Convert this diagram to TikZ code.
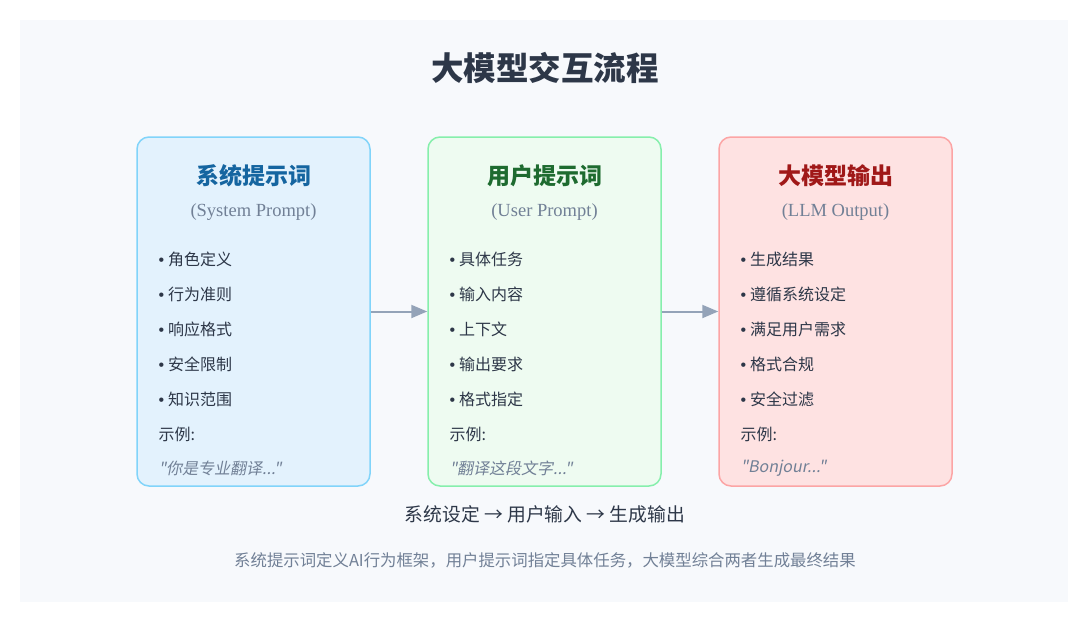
\documentclass[tikz,border=0pt]{standalone}
\usepackage{fontspec}
\setmainfont{Noto Sans CJK SC}
\newfontfamily\subfont{Liberation Serif}
\newfontfamily\dotfont{Liberation Sans}
\newfontfamily\slfont[FakeSlant=0.2]{Noto Sans CJK SC}
\usetikzlibrary{positioning,arrows.meta}
\definecolor{panel}{HTML}{F7F9FC}
\definecolor{ink}{HTML}{2D3748}
\definecolor{gry}{HTML}{718096}
\definecolor{arr}{HTML}{94A3B8}
\definecolor{bfill}{HTML}{E3F2FD}\definecolor{bline}{HTML}{81D4FA}\definecolor{btxt}{HTML}{1565A0}
\definecolor{gfill}{HTML}{EEFBF1}\definecolor{gline}{HTML}{86EFAC}\definecolor{gtxt}{HTML}{1E6B30}
\definecolor{rfill}{HTML}{FEE2E2}\definecolor{rline}{HTML}{FCA5A5}\definecolor{rtxt}{HTML}{A01818}
\newcommand\bul{{\dotfont•}\hspace{4pt}}
\tikzset{
  card/.style={draw=#1line,fill=#1fill,line width=1.5pt,rounded corners=12pt,minimum width=233pt,minimum height=349pt},
  head/.style={font=\fontsize{23}{26}\selectfont\bfseries,text=#1txt},
  sub/.style={font=\subfont\fontsize{18.5}{21}\selectfont,text=gry},
  item/.style={font=\fontsize{16}{19}\selectfont,text=ink,anchor=west},
  flow/.style={-{Triangle[length=16pt,width=13pt]},line width=2pt,draw=arr}
}
\begin{document}
\begin{tikzpicture}[x=1pt,y=-1pt]
\useasboundingbox (0,0) rectangle (1080,637);
\fill[white] (0,0) rectangle (1080,637);
\fill[panel] (20,20) rectangle (1068,602);
\node[font=\fontsize{32.5}{36}\selectfont\bfseries,text=ink] (title) at (545,68) {大模型交互流程};
% three cards
\node[card=b] (sys) at (253.5,311.5) {};
\node[card=g] (usr) at (544.5,311.5) {};
\node[card=r] (out) at (835.5,311.5) {};
\node[head=b] at (253.5,176) {系统提示词};
\node[head=g] at (544.5,176) {用户提示词};
\node[head=r] at (835.5,176) {大模型输出};
\node[sub] at (253.5,212) {(System Prompt)};
\node[sub] at (544.5,212) {(User Prompt)};
\node[sub] at (835.5,212) {(LLM Output)};
\foreach \x/\a/\b/\c/\d/\e/\ex in {
  155/角色定义/行为准则/响应格式/安全限制/知识范围/{"你是专业翻译..."},
  446/具体任务/输入内容/上下文/输出要求/格式指定/{"翻译这段文字..."},
  737/生成结果/遵循系统设定/满足用户需求/格式合规/安全过滤/{"Bonjour..."}}{
  \node[item] at (\x,259) {\bul\a};
  \node[item] at (\x,294) {\bul\b};
  \node[item] at (\x,329) {\bul\c};
  \node[item] at (\x,364) {\bul\d};
  \node[item] at (\x,399) {\bul\e};
  \node[item] at (\x,434) {示例:};
  \node[item,text=gry,font=\slfont\fontsize{16}{19}\selectfont] at (\x,468) {\ex};
}
\draw[flow] (sys) -- (usr);
\draw[flow] (usr) -- (out);
\node[font=\fontsize{18.8}{22}\selectfont,text=ink] (seq) at (545,514) {系统设定 → 用户输入 → 生成输出};
\node[font=\fontsize{16.4}{19}\selectfont,text=gry] (note) at (545,560) {系统提示词定义AI行为框架，用户提示词指定具体任务，大模型综合两者生成最终结果};
\end{tikzpicture}
\end{document}
